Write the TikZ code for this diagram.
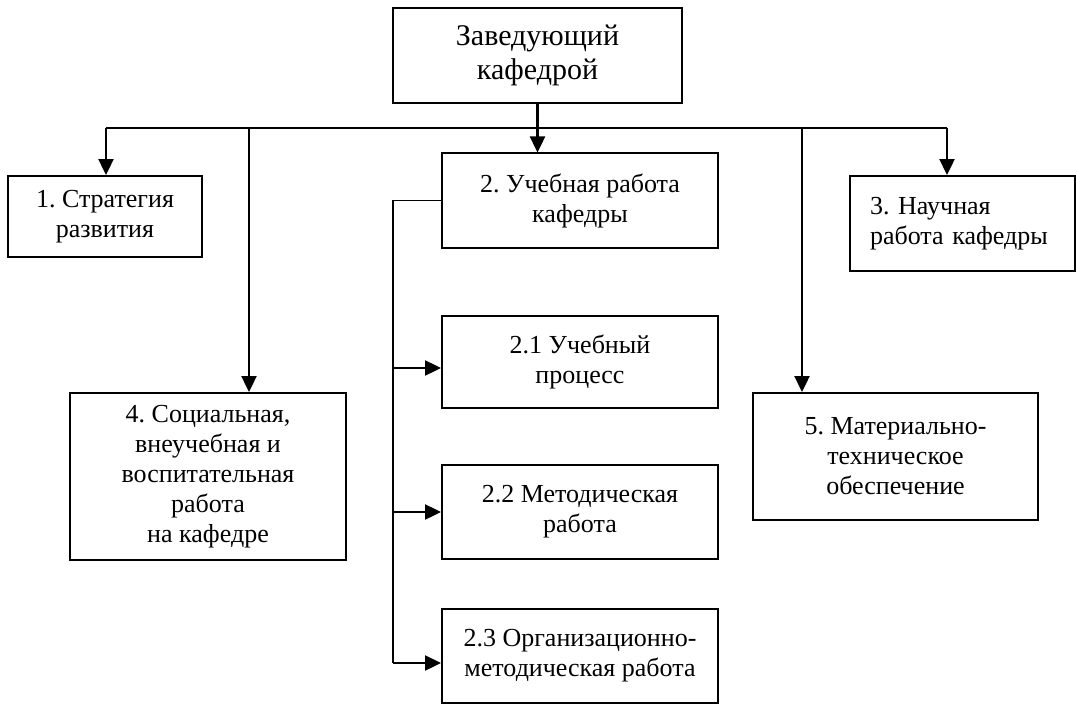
\documentclass[tikz,border=0pt]{standalone}
\usepackage{fontspec}
\setmainfont{Liberation Serif}
\usetikzlibrary{arrows.meta}

\tikzset{
  box/.style={draw,line width=2pt,minimum width=276pt,minimum height=94pt,
    inner sep=0pt,align=center,font=\fontsize{26}{30}\selectfont},
  link/.style={line width=2.4pt},
  trunk/.style={line width=1.4pt}
}

\begin{document}
\frenchspacing
\begin{tikzpicture}[>={Triangle[length=16pt,width=15pt]},x=1pt,y=-1pt]
    \useasboundingbox (0,0) rectangle (1076,706);

    \node[box,minimum width=289pt,minimum height=95pt,font=\fontsize{30}{34}\selectfont]
      (head) at (537.5,55.5) {Заведующий\\кафедрой};

    \node[box,minimum width=194pt,minimum height=81pt] (strat) at (105,216.5) {1. Стратегия\\развития};
    \node[box] (study) at (580,200.5) {2. Учебная работа\\кафедры};
    \node[box,minimum width=225pt,minimum height=95pt,text width=185pt,align=left]
      (science) at (962.5,223.5) {3. Научная\\работа кафедры};
    \node[box,minimum height=167pt] (social) at (208,476.5)
      {4. Социальная,\\внеучебная и\\воспитательная\\работа\\на кафедре};
    \node[box,minimum width=285pt,minimum height=127pt] (tech) at (895.5,456.5)
      {5. Материально-\\техническое\\обеспечение};

    \node[box,minimum height=92pt] (process) at (580,362) {2.1 Учебный\\процесс};
    \node[box] (method) at (580,512) {2.2 Методическая\\работа};
    \node[box] (orgmethod) at (580,656) {2.3 Организационно-\\методическая работа};

    % upper bus
    \coordinate (b1) at (106,128);
    \coordinate (b4) at (249,128);
    \coordinate (b5) at (802,128);
    \coordinate (b3) at (947,128);
    \draw[link] (b1) -- (b3);
    \draw[link,->] (head.south) -- (head.south |- study.north);
    \draw[link,->] (b1) -- (b1 |- strat.north);
    \draw[link,->] (b4) -- (b4 |- social.north);
    \draw[link,->] (b5) -- (b5 |- tech.north);
    \draw[link,->] (b3) -- (b3 |- science.north);

    % branches of item 2
    \coordinate (t1) at (393,368);
    \coordinate (t2) at (393,512);
    \coordinate (t3) at (393,663);
    \draw[trunk] (study.west) -- (study.west -| t3) -- (t3);
    \draw[link,->] (t1) -- (t1 -| process.west);
    \draw[link,->] (t2) -- (t2 -| method.west);
    \draw[link,->] (t3) -- (t3 -| orgmethod.west);
\end{tikzpicture}
\end{document}
